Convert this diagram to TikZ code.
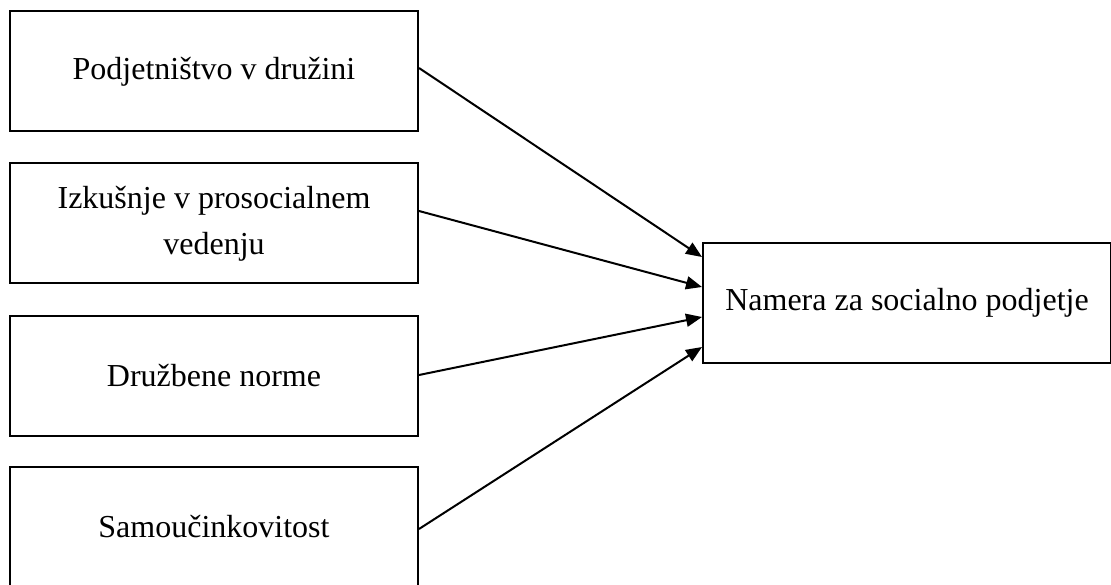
\documentclass[tikz,border=0pt]{standalone}
\usepackage{fontspec}
\setmainfont{Liberation Serif}
\usetikzlibrary{arrows.meta}
\begin{document}
\begin{tikzpicture}[x=1pt,y=-1pt,
  box/.style={draw,line width=2pt,minimum width=408pt,minimum height=120pt,inner sep=2pt,align=center,font=\fontsize{32}{46}\selectfont},
  conn/.style={line width=2pt,-{Triangle[length=16pt,width=13pt]}}]
\useasboundingbox (0,0) rectangle (1111,585);
\begin{scope}
\clip (0,0) rectangle (1111,585);
\node[box] (a) at (214,71.5) {Podjetništvo v družini};
\node[box] (b) at (214,223.5) {Izkušnje v prosocialnem\\vedenju};
\node[box] (c) at (214,376) {Družbene norme};
\node[box] (d) at (214,527) {Samoučinkovitost};
\node[box] (t) at (907,303) {Namera za socialno podjetje};
\end{scope}
\draw[conn] ([yshift=3.5pt]a.east) -- ([yshift=46pt]t.west);
\draw[conn] ([yshift=12.5pt]b.east) -- ([yshift=16pt]t.west);
\draw[conn] ([yshift=1pt]c.east) -- ([yshift=-14pt]t.west);
\draw[conn] ([yshift=-2pt]d.east) -- ([yshift=-44pt]t.west);
\end{tikzpicture}
\end{document}
